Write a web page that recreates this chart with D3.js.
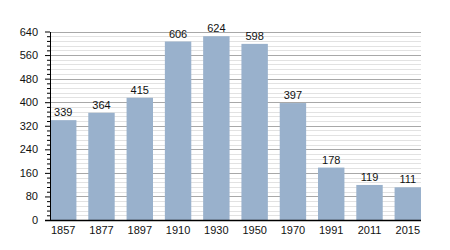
<!DOCTYPE html>
<html>
<head>
<meta charset="utf-8">
<script src="https://cdn.jsdelivr.net/npm/d3@7"></script>
<style>
  body { margin: 0; background: #fff; }
  text { font-family: "Liberation Sans", Arial, sans-serif; }
</style>
</head>
<body>
<script>
const WIDTH = 450;
const HEIGHT = 250;
const MARGIN = { top: 31.5, right: 29, bottom: 30, left: 50 };

const years = ["1857", "1877", "1897", "1910", "1930", "1950", "1970", "1991", "2011", "2015"];
const population = [339, 364, 415, 606, 624, 598, 397, 178, 119, 111];
const yTicks = [0, 80, 160, 240, 320, 400, 480, 560, 640];

const svg = d3.select("body")
    .append("svg")
    .attr("width", WIDTH)
    .attr("height", HEIGHT);

const x = d3.scaleBand()
    .domain(years)
    .range([MARGIN.left, WIDTH - MARGIN.right])
    .paddingInner(0.31)
    .paddingOuter(0);

const y = d3.scaleLinear()
    .domain([0, 640])
    .range([HEIGHT - MARGIN.bottom, MARGIN.top]);

// minor grid every 16
const minor = d3.range(16, 640, 16).filter(v => v % 80 !== 0);
svg.append("g")
    .selectAll("line")
    .data(minor)
    .join("line")
    .attr("x1", MARGIN.left)
    .attr("x2", WIDTH - MARGIN.right)
    .attr("y1", d => Math.round(y(d)) + 0.5)
    .attr("y2", d => Math.round(y(d)) + 0.5)
    .attr("stroke", "#e2e2e2");

svg.append("g")
    .selectAll("line")
    .data(yTicks.slice(1))
    .join("line")
    .attr("x1", MARGIN.left)
    .attr("x2", WIDTH - MARGIN.right)
    .attr("y1", d => Math.round(y(d)) + 0.5)
    .attr("y2", d => Math.round(y(d)) + 0.5)
    .attr("stroke", "#a8a8a8");

svg.append("g")
    .selectAll("rect")
    .data(population)
    .join("rect")
    .attr("x", (d, i) => x(years[i]))
    .attr("width", x.bandwidth())
    .attr("y", d => y(d))
    .attr("height", d => y(0) - y(d))
    .attr("fill", "#99b1cc");

svg.append("g")
    .selectAll("text")
    .data(population)
    .join("text")
    .attr("x", (d, i) => x(years[i]) + x.bandwidth() / 2)
    .attr("y", d => y(d) - 4)
    .attr("text-anchor", "middle")
    .attr("font-size", 11)
    .attr("fill", "#111")
    .text(d => d);

// minor y ticks
svg.append("g")
    .attr("transform", `translate(${MARGIN.left},0)`)
    .call(d3.axisLeft(y).tickValues(minor).tickSize(3).tickFormat(""))
    .call(g => g.select(".domain").remove())
    .call(g => g.selectAll("line").attr("stroke", "#000"));

const yAxis = svg.append("g")
    .attr("transform", `translate(${MARGIN.left},0)`)
    .call(d3.axisLeft(y).tickValues(yTicks).tickSize(5).tickSizeOuter(0).tickPadding(7));
yAxis.select(".domain").attr("stroke", "#000");
yAxis.selectAll("text").attr("font-size", 11).attr("font-family", "Liberation Sans, Arial, sans-serif").attr("fill", "#111");

const xAxis = svg.append("g")
    .attr("transform", `translate(0,${HEIGHT - MARGIN.bottom})`)
    .call(d3.axisBottom(x).tickSize(0).tickPadding(6));
xAxis.select(".domain").attr("d", `M${MARGIN.left - 5},0.5H${WIDTH - MARGIN.right}`).attr("stroke", "#000").attr("stroke-width", 1.5);
xAxis.selectAll("text").attr("font-size", 11).attr("font-family", "Liberation Sans, Arial, sans-serif").attr("fill", "#111");
</script>
</body>
</html>
